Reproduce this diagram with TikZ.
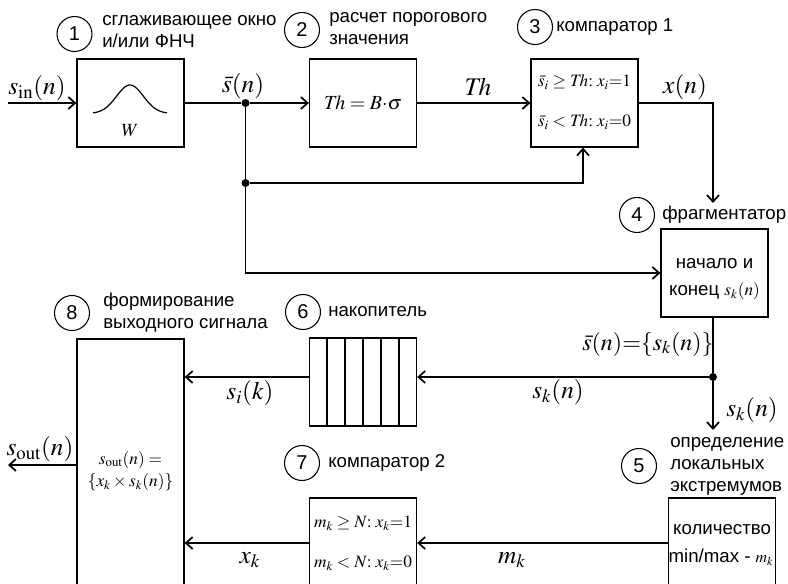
\documentclass[tikz,border=0pt]{standalone}
\usepackage{mathptmx}
\usepackage[no-math]{fontspec}
\setmainfont{Liberation Sans}
\usetikzlibrary{arrows.meta,calc}
\begin{document}
\begin{tikzpicture}[x=0.75pt,y=-0.75pt,
 blk/.style={draw, line width=1pt, minimum width=80.25pt, minimum height=66pt, inner sep=0pt, align=center},
 num/.style={draw, circle, line width=0.8pt, minimum size=26.25pt, inner sep=0pt, font=\fontsize{15}{16}\selectfont},
 lbl/.style={anchor=west, align=left, inner sep=0pt, font=\fontsize{14}{16.5}\selectfont},
 big/.style={inner sep=0pt, font=\fontsize{19}{21}\selectfont},
 inb/.style={inner sep=0pt, font=\fontsize{13}{15}\selectfont},
 ins/.style={inner sep=0pt, font=\fontsize{14}{15}\selectfont},
 conn/.style={line width=1pt},
 arr/.style={conn, -{Straight Barb[length=5pt,width=9pt,line width=1.3pt]}},
 dot/.style={circle, fill, inner sep=0pt, minimum size=6pt}]
\useasboundingbox (0,0) rectangle (788,584);
\clip (0,0) rectangle (788,584);

% blocks
\node[blk] (b1) at (130.5,103) {};
\draw[line width=0.9pt] plot[domain=-37:37, samples=70, smooth] ({130+\x},{113.5-28.5*exp(-(\x/19)*(\x/19))});
\node[inb, font=\fontsize{14}{16}\selectfont] (w) at (130,131) {$W$};
\node[blk, font=\fontsize{15}{17}\selectfont] (b2) at (363,103) {$\mathit{Th} = B{\cdot}\sigma$};
\node[blk] (b3) at (584.5,103) {};
\node[inb] (b3a) at (584.5,82) {$\bar{s}_i \geq \mathit{Th}{:}\; x_i{=}1$};
\node[inb] (b3b) at (584.5,122) {$\bar{s}_i < \mathit{Th}{:}\; x_i{=}0$};
\node[blk] (b4) at (714.5,273) {};
\node[ins] (b4a) at (714.5,264) {начало и};
\node[ins] (b4b) at (714.5,291) {конец {\fontsize{13}{14}\selectfont$s_k(n)$}};
\node[blk, minimum height=67.5pt] (b5) at (722,543) {};
\node[ins] (b5a) at (722,530) {количество};
\node[ins] (b5b) at (721,557) {min/max - {\fontsize{12}{14}\selectfont$m_k$}};
\node[blk] (b6) at (363,382) {};
\foreach \k in {1,...,5} \draw[line width=1pt] ($(b6.north west)+(18*\k,0)$) -- ($(b6.south west)+(18*\k,0)$);
\node[blk, minimum height=67.5pt] (b7) at (363,543) {};
\node[inb] (b7a) at (363,523) {$m_k \geq N{:}\; x_k{=}1$};
\node[inb] (b7b) at (363,563) {$m_k < N{:}\; x_k{=}0$};
\node[blk, minimum height=198pt] (b8) at (130.5,471) {};
\node[inb] (b8a) at (130.5,460) {$s_{\mathrm{out}}(n) =$};
\node[inb] (b8b) at (130.5,482) {$\{x_k \times s_k(n)\}$};

% numbered circles and titles
\node[num] (c1) at (74.5,34) {1};
\node[lbl] (t1) at (102,32) {сглаживающее окно\\и/или ФНЧ};
\node[num] (c2) at (302,30) {2};
\node[lbl] (t2) at (329,29) {расчет порогового\\значения};
\node[num] (c3) at (535,27) {3};
\node[lbl] (t3) at (556,27) {компаратор 1};
\node[num] (c4) at (637,215) {4};
\node[lbl] (t4) at (662,215) {фрагментатор};
\node[num] (c5) at (639,466) {5};
\node[lbl] (t5) at (670,466) {определение\\локальных\\экстремумов};
\node[num] (c6) at (303,312) {6};
\node[lbl] (t6) at (328,312) {накопитель};
\node[num] (c7) at (302,463) {7};
\node[lbl] (t7) at (328,463) {компаратор 2};
\node[num] (c8) at (72,313) {8};
\node[lbl] (t8) at (103,313) {формирование\\выходного сигнала};

% signal labels
\node[big] (lin) at (37,88) {$s_{\mathrm{in}}(n)$};
\node[big] (lsbar) at (243,86) {$\bar{s}(n)$};
\node[big] (lth) at (478,87) {$\mathit{Th}$};
\node[big] (lx) at (685,87) {$x(n)$};
\node[big, font=\fontsize{18}{20}\selectfont] (lsk1) at (648,344) {$\bar{s}(n){=}\{s_k(n)\}$};
\node[big] (lsk2) at (558,392) {$s_k(n)$};
\node[big] (lsk3) at (752,410) {$s_k(n)$};
\node[big] (lsi) at (250,393) {$s_i(k)$};
\node[big] (lmk) at (512,560) {$m_k$};
\node[big] (lxk) at (250,560) {$x_k$};
\node[big] (lsout) at (40,449) {$s_{\mathrm{out}}(n)$};

% connectors
\coordinate (in) at (8,103);
\draw[arr] (in) -- (b1.west);
\node[dot] (j1) at (245.5,103) {};
\draw[conn] (b1.east) -- (j1);
\draw[arr] (j1) -- (b2.west);
\draw[arr] (b2.east) -- (b3.west);
\coordinate (a4) at (713,203);
\draw[arr] (b3.east) -| (a4);
\node[dot] (j2) at (245.5,183) {};
\draw[conn] (j1) -- (j2);
\coordinate (f3) at (583,183);
\draw[arr] (j2) -- (f3) -- (f3 |- b3.south);
\draw[arr] (j2) |- (b4.west);
\node[dot] (j3) at (713,377) {};
\draw[conn] (b4.south -| j3) -- (j3);
\draw[arr] (j3) -- (j3 -| b6.east);
\coordinate (a5) at (713,430);
\draw[arr] (j3) -- (a5);
\draw[arr] (j3 -| b6.west) -- (j3 -| b8.east);
\draw[arr] (b5.west) -- (b7.east);
\draw[arr] (b7.west) -- (b7.west -| b8.east);
\coordinate (out) at (8,465);
\draw[arr] (out -| b8.west) -- (out);
\end{tikzpicture}
\end{document}
